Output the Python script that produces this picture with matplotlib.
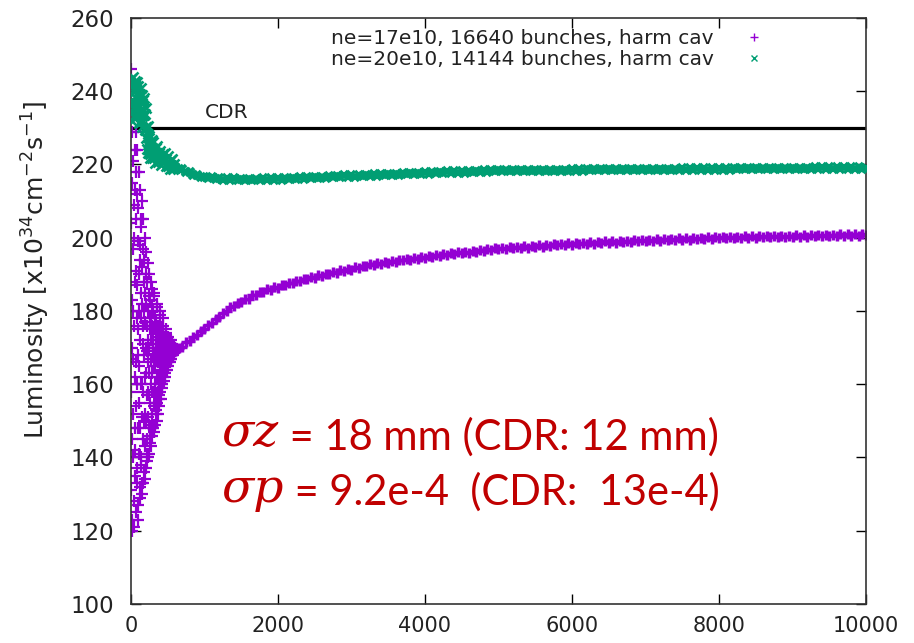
import numpy as np
import matplotlib.pyplot as plt
from matplotlib.lines import Line2D

# ---- turn grids: fine sampling while the beams are still blowing up ----
turns_fine = np.arange(0, 600, 2)
turns_a = np.arange(0, 300, 5)
turns_b = np.arange(300, 600, 10)
turns_c = np.arange(600, 10001, 50)

# ne=17e10, 16640 bunches
lumi_17_early = [
    246, 131, 204, 158, 229, 120, 183, 215, 145, 170,
    123, 236, 167, 197, 140, 221, 152, 180, 128, 209,
    234, 176, 121, 200, 148, 224, 162, 135, 213, 188,
    142, 218, 125, 191, 166, 229, 154, 205, 133, 178,
    224, 137, 187, 160, 212, 123, 175, 199, 148, 168,
    127, 208, 155, 190, 141, 218, 165, 180, 132, 198,
    213, 172, 129, 194, 148, 205, 160, 138, 185, 178,
    140, 203, 133, 182, 160, 210, 151, 192, 130, 171,
    205, 145, 176, 158, 197, 133, 168, 188, 150, 180,
    136, 194, 152, 177, 143, 200, 162, 185, 134, 170,
    196, 163, 137, 182, 150, 190, 157, 141, 176, 169,
    145, 188, 139, 172, 158, 193, 151, 180, 140, 166,
    190, 149, 170, 157, 184, 141, 163, 178, 146, 175,
    144, 183, 155, 172, 148, 188, 160, 178, 143, 167,
    186, 158, 146, 176, 152, 181, 163, 148, 172, 168,
    149, 180, 148, 170, 158, 185, 154, 175, 147, 165,
    184, 155, 168, 160, 178, 149, 165, 174, 153, 171,
    152, 177, 157, 170, 150, 182, 162, 175, 155, 167,
    181, 158, 170, 162, 176, 152, 166, 173, 157, 169,
    156, 175, 160, 170, 154, 180, 164, 172, 158, 167,
    179, 161, 170, 165, 175, 156, 168, 173, 160, 171,
    160, 174, 163, 170, 159, 178, 166, 172, 162, 169,
    176, 164, 170, 166, 173, 161, 168, 172, 165, 169,
    163, 173, 166, 170, 162, 175, 167, 172, 164, 169,
    174, 166, 170, 167, 172, 164, 169, 171, 166, 170,
    166, 172, 167, 170, 165, 173, 168, 171, 167, 169,
    172, 167, 170, 168, 171, 166, 169, 171, 168, 170,
    167, 171, 168, 170, 167, 172, 169, 170, 168, 169,
    171, 168, 170, 168.5, 170.5, 168, 169.5, 170, 168.5, 169.5,
    168.5, 170.5, 169, 170, 168.5, 170.5, 169, 170, 169, 169.5]
lumi_17_late = [
    169.0, 169.8, 170.1, 171.4, 171.8, 173.0, 173.4, 174.6, 175.1, 176.3,
    176.7, 177.9, 178.3, 179.5, 179.9, 181.1, 181.4, 182.3, 182.4, 183.3,
    183.4, 184.3, 184.3, 185.1, 185.1, 185.9, 185.8, 186.5, 186.4, 187.1,
    187.0, 187.7, 187.6, 188.3, 188.2, 188.8, 188.7, 189.3, 189.1, 189.7,
    189.6, 190.2, 190.0, 190.7, 190.5, 191.1, 190.9, 191.5, 191.3, 191.9,
    191.7, 192.3, 192.2, 192.7, 192.5, 193.1, 192.8, 193.4, 193.1, 193.7,
    193.5, 194.0, 193.8, 194.3, 194.0, 194.6, 194.3, 194.8, 194.6, 195.1,
    194.8, 195.3, 195.0, 195.6, 195.3, 195.8, 195.5, 196.0, 195.7, 196.2,
    195.9, 196.4, 196.2, 196.7, 196.4, 196.9, 196.6, 197.1, 196.8, 197.3,
    196.9, 197.4, 197.1, 197.5, 197.2, 197.7, 197.3, 197.8, 197.5, 197.9,
    197.6, 198.1, 197.7, 198.2, 197.9, 198.3, 198.0, 198.5, 198.1, 198.6,
    198.2, 198.7, 198.3, 198.8, 198.4, 198.9, 198.5, 199.0, 198.6, 199.1,
    198.7, 199.1, 198.8, 199.2, 198.9, 199.3, 199.0, 199.4, 199.1, 199.5,
    199.1, 199.6, 199.2, 199.7, 199.3, 199.7, 199.4, 199.8, 199.5, 199.9,
    199.5, 200.0, 199.6, 200.0, 199.7, 200.1, 199.7, 200.2, 199.8, 200.2,
    199.8, 200.3, 199.9, 200.3, 199.9, 200.4, 200.0, 200.4, 200.0, 200.5,
    200.1, 200.5, 200.1, 200.6, 200.2, 200.6, 200.2, 200.6, 200.3, 200.7,
    200.3, 200.7, 200.3, 200.8, 200.4, 200.8, 200.4, 200.8, 200.4, 200.8,
    200.5, 200.9, 200.5, 200.9, 200.5, 200.9, 200.6, 200.9, 200.7]

# ne=20e10, 14144 bunches
lumi_20_a = [243.4, 234.4, 239.2, 232.0, 241.6, 236.8, 244.0, 233.2, 240.4, 235.6,
             242.8, 232.6, 238.4, 234.9, 241.5, 236.9, 242.5, 233.6, 238.8, 235.6,
             241.5, 233.8, 237.6, 231.4, 239.2, 235.0, 240.8, 231.6, 237.4, 233.2,
             239.0, 230.3, 235.1, 231.9, 237.7, 233.5, 238.2, 229.3, 233.7, 230.1,
             235.5, 227.3, 230.3, 224.2, 230.3, 226.2, 230.5, 223.2, 227.3, 224.0,
             227.8, 221.7, 224.9, 222.8, 226.4, 223.7, 226.7, 221.7, 224.6, 222.7]
lumi_20_b = [226.2, 221.7, 223.8, 220.4, 224.5, 222.3, 225.0, 220.6, 223.2, 221.3,
             223.8, 219.9, 221.9, 220.6, 222.8, 221.1, 223.1, 219.7, 221.5, 220.3,
             222.3, 219.6, 220.8, 218.7, 221.2, 219.8, 221.4, 218.9, 220.2, 219.1]
lumi_20_late = [
    219.3, 218.7, 218.8, 218.0, 218.0, 217.2, 217.2, 216.5, 216.7, 216.2,
    216.5, 216.0, 216.4, 215.9, 216.3, 215.8, 216.2, 215.8, 216.1, 215.7,
    216.1, 215.7, 216.1, 215.8, 216.2, 215.8, 216.2, 215.8, 216.3, 215.9,
    216.3, 216.0, 216.4, 216.0, 216.5, 216.1, 216.6, 216.2, 216.7, 216.3,
    216.7, 216.4, 216.8, 216.5, 216.9, 216.5, 217.0, 216.6, 217.1, 216.7,
    217.1, 216.8, 217.2, 216.9, 217.3, 216.9, 217.4, 217.0, 217.5, 217.1,
    217.5, 217.2, 217.6, 217.3, 217.7, 217.3, 217.8, 217.4, 217.9, 217.5,
    217.9, 217.6, 218.0, 217.6, 218.1, 217.7, 218.1, 217.8, 218.2, 217.8,
    218.3, 217.9, 218.3, 218.0, 218.4, 218.0, 218.4, 218.1, 218.5, 218.1,
    218.5, 218.1, 218.5, 218.1, 218.5, 218.2, 218.5, 218.2, 218.6, 218.2,
    218.6, 218.2, 218.6, 218.3, 218.6, 218.3, 218.6, 218.3, 218.7, 218.3,
    218.7, 218.3, 218.7, 218.4, 218.7, 218.4, 218.7, 218.4, 218.8, 218.4,
    218.8, 218.4, 218.8, 218.5, 218.8, 218.5, 218.8, 218.5, 218.9, 218.5,
    218.9, 218.5, 218.9, 218.6, 218.9, 218.6, 218.9, 218.6, 219.0, 218.6,
    219.0, 218.6, 219.0, 218.6, 219.0, 218.6, 219.0, 218.6, 219.0, 218.6,
    219.0, 218.6, 219.0, 218.7, 219.0, 218.7, 219.1, 218.7, 219.1, 218.7,
    219.1, 218.7, 219.1, 218.7, 219.1, 218.7, 219.1, 218.7, 219.1, 218.7,
    219.1, 218.8, 219.1, 218.8, 219.2, 218.8, 219.2, 218.8, 219.2, 218.8,
    219.2, 218.8, 219.2, 218.8, 219.2, 218.8, 219.2, 218.8, 219.1]

turns_20_early = np.concatenate([turns_a, turns_b])
lumi_20_early = np.concatenate([lumi_20_a, lumi_20_b])

cdr_lumi = 230
labels = ["ne=17e10, 16640 bunches, harm cav",
          "ne=20e10, 14144 bunches, harm cav"]

purple = "#9400D3"
green = "#009E73"
txt = "#222222"

fig = plt.figure(figsize=(9.14, 6.43), dpi=100)
ax = fig.add_axes([0.1433, 0.0607, 0.8042, 0.9113])

ax.plot([0, 10000], [cdr_lumi, cdr_lumi], color="black", lw=2.3, zorder=1)
ax.text(1000, 231.6, "CDR", fontsize=14.5, color=txt, va="bottom")

# scattered start drawn with finer points, settled part packed into a band
ax.plot(turns_fine, lumi_17_early, "+", color=purple, ms=8.5, mew=1.6,
        ls="none", zorder=2)
ax.plot(turns_c, lumi_17_late, "+", color=purple, ms=7, mew=2.5,
        ls="none", zorder=2)
ax.plot(turns_20_early, lumi_20_early, "x", color=green, ms=7, mew=1.9,
        ls="none", zorder=3)
ax.plot(turns_c, lumi_20_late, "x", color=green, ms=6, mew=2.6,
        ls="none", zorder=3)

ax.set_xlim(0, 10000)
ax.set_ylim(100, 260)
ax.set_xticks(np.arange(0, 10001, 2000))
ax.set_yticks(np.arange(100, 261, 20))
ax.tick_params(direction="in", length=7, width=1, top=True, right=True,
               labelcolor=txt)
ax.tick_params(axis="x", labelsize=15, pad=9)
ax.tick_params(axis="y", labelsize=16.5, pad=12)
for s in ax.spines.values():
    s.set_linewidth(1.2)
    s.set_color("#333333")

ax.set_ylabel(r"Luminosity [x10$^{34}$cm$^{-2}$s$^{-1}$]", fontsize=18,
              color=txt)
ax.yaxis.set_label_coords(-0.108, 0.57)

handles = [Line2D([], [], marker="+", color=purple, ms=6, mew=1.0, ls="none"),
           Line2D([], [], marker="x", color=green, ms=5, mew=1.0, ls="none")]
leg = ax.legend(handles, labels, loc="upper right",
                bbox_to_anchor=(0.872, 0.995), frameon=False,
                markerfirst=False, fontsize=14.5, handlelength=1.0,
                handletextpad=1.5, labelspacing=0.1, borderaxespad=0)
for t in leg.get_texts():
    t.set_color(txt)

# beam parameters, sigma in italic serif followed by the values
red = "#C00000"
s1 = ax.text(1230, 143.0, "σz", fontsize=34, color=red,
             family="DejaVu Serif", style="italic")
ax.annotate(" = 18 mm (CDR: 12 mm)", xy=(1, 0), xycoords=s1,
            fontsize=30, color=red, family="Lato", va="bottom")
s2 = ax.text(1230, 127.8, "σp", fontsize=34, color=red,
             family="DejaVu Serif", style="italic")
ax.annotate(" = 9.2e-4  (CDR:  13e-4)", xy=(1, 0), xycoords=s2,
            fontsize=30, color=red, family="Lato", va="bottom")

fig.savefig("out.png", dpi=100)
